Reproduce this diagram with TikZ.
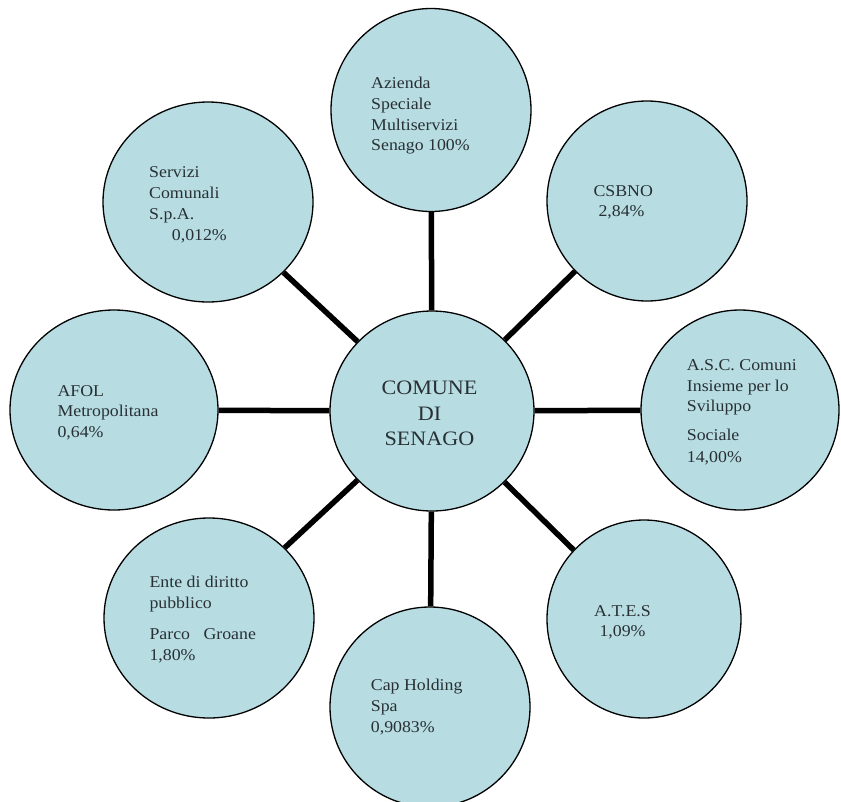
\documentclass[tikz,border=0pt]{standalone}
\usepackage{fontspec}
\setmainfont[FakeStretch=1.08]{Liberation Serif}
\usetikzlibrary{shapes.geometric}
\definecolor{bubble}{RGB}{183,221,227}
\definecolor{ink}{RGB}{40,48,52}
\begin{document}
\begin{tikzpicture}[x=1pt,y=-1pt,
  bub/.style={ellipse, draw=black, line width=1.3pt, fill=bubble, minimum width=204pt, minimum height=200pt, inner sep=0pt},
  conn/.style={line width=5.5pt},
  txt/.style={anchor=base west, inner sep=0pt, text=ink, font=\fontsize{16.5}{20}\selectfont},
  big/.style={anchor=base, inner sep=0pt, text=ink, font=\fontsize{20.5}{25}\selectfont}]
\useasboundingbox (0,0) rectangle (841,801);
% circles
\node[bub] (cen) at (432,411) {};
\node[bub, minimum width=200pt, minimum height=203pt] (azi) at (431,110) {};
\node[bub, minimum width=210pt] (ser) at (208,202) {};
\node[bub, minimum width=200pt] (csb) at (647,201) {};
\node[bub, minimum width=208pt] (afo) at (114,410) {};
\node[bub, minimum width=198pt] (asc) at (740,410) {};
\node[bub, minimum width=210pt] (ent) at (209,618) {};
\node[bub, minimum width=200pt] (cap) at (430,707) {};
\node[bub, minimum width=194pt, minimum height=198pt] (ate) at (644,619) {};
% connectors
\draw[conn] (cen) -- (azi);
\draw[conn] (cen) -- (ser);
\draw[conn] (cen) -- (csb);
\draw[conn] (cen) -- (afo);
\draw[conn] (cen) -- (asc);
\draw[conn] (cen) -- (ent);
\draw[conn] (cen) -- (cap);
\draw[conn] (cen) -- (ate);
% texts
\node[big] (cen1) at (429.5,394) {COMUNE};
\node[big] (cen2) at (429.5,420) {DI};
\node[big] (cen3) at (429.5,445.5) {SENAGO};

\node[txt] (azi1) at (371,88.7) {Azienda};
\node[txt] (azi2) at (371,109.5) {Speciale};
\node[txt] (azi3) at (371,130.5) {Multiservizi};
\node[txt] (azi4) at (371,150.7) {Senago 100\%};

\node[txt] (ser1) at (149,177.3) {Servizi};
\node[txt] (ser2) at (149,198.3) {Comunali};
\node[txt] (ser3) at (149,219.3) {S.p.A.};
\node[txt] (ser4) at (171.7,240) {0,012\%};

\node[txt] (csb1) at (593.3,196.7) {CSBNO};
\node[txt] (csb2) at (598.3,216.7) {2,84\%};

\node[txt] (afo1) at (57.3,396.7) {AFOL};
\node[txt] (afo2) at (57.3,416.7) {Metropolitana};
\node[txt] (afo3) at (57.3,437.3) {0,64\%};

\node[txt] (asc1) at (686.7,370) {A.S.C. Comuni};
\node[txt] (asc2) at (686.7,391) {Insieme per lo};
\node[txt] (asc3) at (686.7,411) {Sviluppo};
\node[txt] (asc4) at (686.7,440.7) {Sociale};
\node[txt] (asc5) at (686.7,462.3) {14,00\%};

\node[txt] (ent1) at (149.3,587.3) {Ente di diritto};
\node[txt] (ent2) at (149.3,608.3) {pubblico};
\node[txt] (ent3) at (149.3,639) {Parco\hspace{9pt} Groane};
\node[txt] (ent4) at (149.3,660) {1,80\%};

\node[txt] (cap1) at (370.7,690.7) {Cap Holding};
\node[txt] (cap2) at (370.7,711.7) {Spa};
\node[txt] (cap3) at (370.7,732.3) {0,9083\%};

\node[txt] (ate1) at (594,616) {A.T.E.S};
\node[txt] (ate2) at (599.3,636.7) {1,09\%};
\end{tikzpicture}
\end{document}
